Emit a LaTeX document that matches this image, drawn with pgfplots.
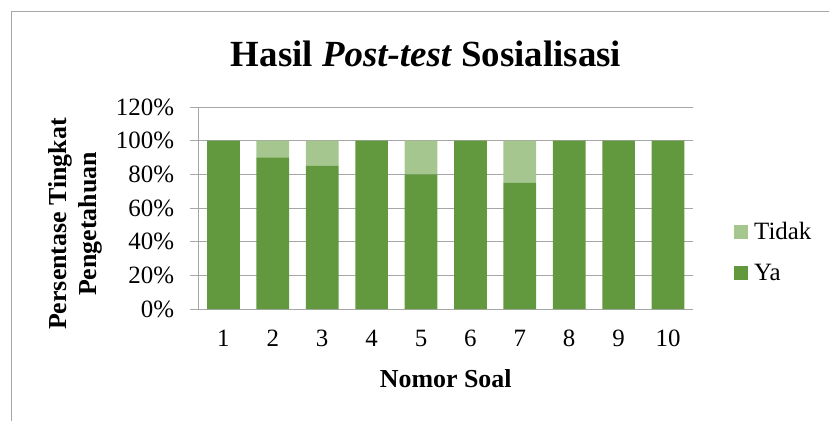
\documentclass[border=0pt]{standalone}
\usepackage{pgfplots}
\pgfplotsset{compat=1.18}
\usepackage{fontspec}
\setmainfont{Liberation Serif}
\definecolor{ya}{RGB}{98,153,62}
\definecolor{tidak}{RGB}{165,198,143}
\definecolor{gridc}{RGB}{166,166,166}
\begin{document}
\begin{tikzpicture}[x=1bp,y=1bp]
\useasboundingbox (0,0) rectangle (829,421);
\draw[gridc, line width=0.8bp] (11,0) -- (11,410) -- (829,410);
\node[anchor=base, font=\fontsize{37}{44}\selectfont\bfseries, inner sep=0pt] at (426,355) {Hasil \textit{Post-test} Sosialisasi};
\node[rotate=90, align=center, font=\fontsize{26}{30}\selectfont\bfseries, inner sep=0pt] at (75,197) {Persentase Tingkat\\Pengetahuan};
\begin{axis}[
  at={(198.7bp,112bp)}, anchor=south west,
  scale only axis, width=494bp, height=202bp,
  xmin=0.5, xmax=10.5, ymin=0, ymax=120,
  ybar stacked, bar width=32.7bp,
  xtick={1,...,10}, ytick={0,20,...,120},
  /pgf/number format/assume math mode=true,
  yticklabel={\pgfmathprintnumber{\tick}\%},
  axis x line*=bottom, axis y line*=left,
  axis line style={gridc, line width=0.8bp},
  ymajorgrids, grid style={gridc, line width=0.8bp},
  tick align=outside, major tick length=8.5bp,
  xtick style={draw=none}, ytick style={gridc, line width=0.8bp},
  tick label style={font=\fontsize{25}{30}\selectfont},
  yticklabel style={anchor=east, inner sep=0pt, xshift=-16bp},
  xticklabel style={anchor=base, inner sep=0pt, yshift=-29bp},
  xlabel={Nomor Soal},
  xlabel style={font=\fontsize{26}{30}\selectfont\bfseries, at={(axis description cs:0.5,0)}, anchor=base, inner sep=0pt, yshift=-78bp},
  reverse legend,
  legend image code/.code={\fill[#1] (0bp,-7bp) rectangle (14bp,7bp);},
  legend cell align=left,
  legend style={draw=none, fill=none, inner sep=0pt, at={(1.0836,0.28)}, anchor=west,
    font=\fontsize{25}{30}\selectfont, row sep=19bp,
    /tikz/every odd column/.append style={column sep=4bp}},
]
\addplot[fill=ya, draw=none] coordinates {(1,100) (2,90) (3,85) (4,100) (5,80) (6,100) (7,75) (8,100) (9,100) (10,100)};
\addplot[fill=tidak, draw=none] coordinates {(1,0) (2,10) (3,15) (4,0) (5,20) (6,0) (7,25) (8,0) (9,0) (10,0)};
\legend{Ya, Tidak}
\end{axis}
\end{tikzpicture}
\end{document}
